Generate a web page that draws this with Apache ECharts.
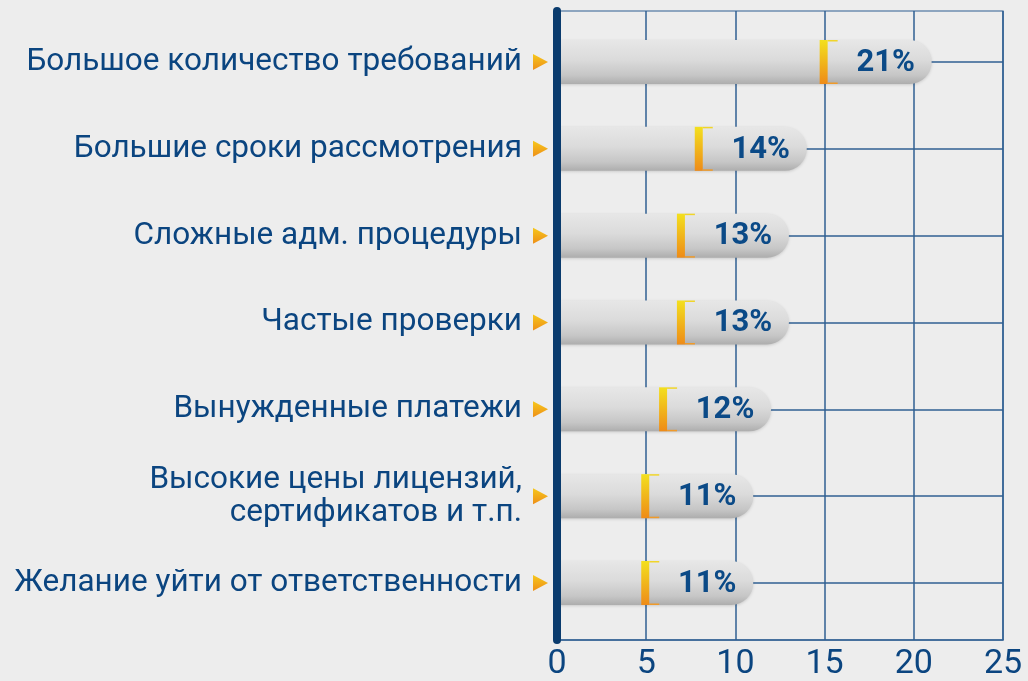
<!DOCTYPE html>
<html>
<head>
<meta charset="utf-8">
<script src="https://cdn.jsdelivr.net/npm/echarts@6/dist/echarts.min.js"></script>
<style>
html,body{margin:0;padding:0;background:#ededed;}
#chart{width:1028px;height:681px;}
</style>
</head>
<body>
<div id="chart"></div>
<script>
const categories = [
  'Большое количество требований',
  'Большие сроки рассмотрения',
  'Сложные адм. процедуры',
  'Частые проверки',
  'Вынужденные платежи',
  'Высокие цены лицензий,\nсертификатов и т.п.',
  'Желание уйти от ответственности'
];
const values = [21, 14, 13, 13, 12, 11, 11];
const xMin = 0, xMax = 25, xStep = 5;

const BLUE = '#0b4580';
const GRID = '#2f5f92';

const chart = echarts.init(document.getElementById('chart'));

function renderBar(params, api) {
  const v = api.value(0);
  const idx = api.value(1);
  const start = api.coord([0, idx]);
  const end = api.coord([v, idx]);
  const cy = start[1];
  const h = 44;
  const top = cy - h / 2;
  const w = end[0] - start[0];
  const mx = end[0] - 108;
  return {
    type: 'group',
    children: [
      {
        type: 'rect',
        shape: { x: start[0], y: top, width: w, height: h, r: [0, 22, 22, 0] },
        style: {
          fill: new echarts.graphic.LinearGradient(0, 0, 0, 1, [
            { offset: 0, color: '#e7e7e7' },
            { offset: 0.45, color: '#dbdbdb' },
            { offset: 0.8, color: '#c6c6c6' },
            { offset: 1, color: '#adadad' }
          ]),
          shadowBlur: 3, shadowColor: 'rgba(0,0,0,0.15)', shadowOffsetY: 1
        }
      },
      {
        type: 'rect',
        shape: { x: mx - 4, y: top, width: 8, height: h },
        style: {
          fill: new echarts.graphic.LinearGradient(0, 0, 0, 1, [
            { offset: 0, color: '#f3e01e' },
            { offset: 1, color: '#ee8b18' }
          ])
        }
      },
      { type: 'rect', shape: { x: mx + 4, y: top, width: 10, height: 1.5 }, style: { fill: '#f0d52a' } },
      { type: 'rect', shape: { x: mx + 4, y: top + h - 1.5, width: 10, height: 1.5 }, style: { fill: '#ef9a2a' } },
      {
        type: 'text',
        style: {
          text: v + '%', x: end[0] - 46, y: cy + 1,
          align: 'center', verticalAlign: 'middle',
          font: 'bold 31px Roboto', fill: '#0b4a87'
        }
      },
      {
        type: 'polygon',
        shape: { points: [[start[0] - 24, cy - 8], [start[0] - 24, cy + 8], [start[0] - 9, cy]] },
        style: {
          fill: new echarts.graphic.LinearGradient(0, 0, 0, 1, [
            { offset: 0, color: '#f6c81c' },
            { offset: 1, color: '#ee8f18' }
          ])
        }
      }
    ]
  };
}

chart.setOption({
  backgroundColor: '#ededed',
  animation: false,
  grid: [
    { left: 557, right: 25, top: 11, bottom: 39, show: true, borderColor: GRID, borderWidth: 1.2, backgroundColor: 'transparent' },
    { left: 557, right: 25, top: 62, bottom: 98 }
  ],
  xAxis: [
    {
      gridIndex: 0, type: 'value', min: xMin, max: xMax, interval: xStep,
      axisLine: { show: true, lineStyle: { color: GRID, width: 1.5 } },
      axisTick: { show: false },
      splitLine: { show: true, lineStyle: { color: GRID, width: 1.5 } },
      axisLabel: { color: BLUE, fontFamily: 'Roboto', fontSize: 34, margin: 7 }
    },
    { gridIndex: 1, type: 'value', min: xMin, max: xMax, show: false }
  ],
  yAxis: [
    {
      gridIndex: 0, type: 'value', min: 0, max: 1, z: 10,
      axisLine: { show: true, lineStyle: { color: '#0a3b6d', width: 8 } },
      axisTick: { show: false }, axisLabel: { show: false }, splitLine: { show: false }
    },
    {
      gridIndex: 1, type: 'category', data: categories, inverse: true, boundaryGap: false,
      axisLine: { show: false }, axisTick: { show: false },
      splitLine: { show: true, lineStyle: { color: GRID, width: 1.5 } },
      axisLabel: { color: BLUE, fontFamily: 'Roboto', fontSize: 31.5, margin: 35, lineHeight: 33, align: 'right' }
    }
  ],
  series: [
    {
      type: 'custom', xAxisIndex: 1, yAxisIndex: 1, clip: false, z: 5,
      renderItem: renderBar,
      data: values.map((v, i) => [v, i])
    }
  ]
});
</script>
</body>
</html>
